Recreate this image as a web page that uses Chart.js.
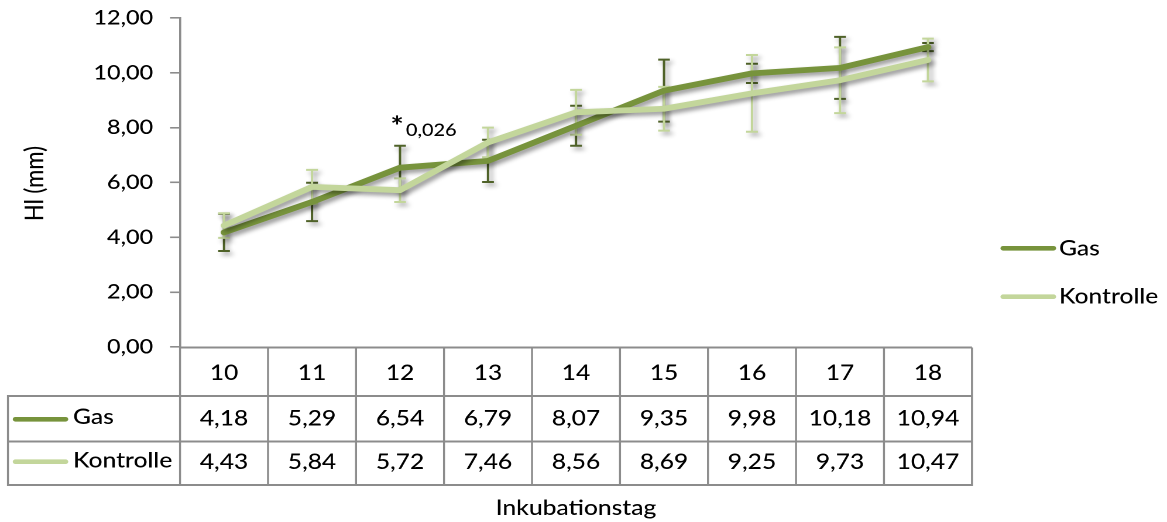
<!DOCTYPE html>
<html>
<head>
<meta charset="utf-8">
<script src="https://cdn.jsdelivr.net/npm/chart.js@4.4.1/dist/chart.umd.min.js"></script>
<style>
  html, body { margin: 0; padding: 0; background: #fff; overflow: hidden; }
  /* the chart is laid out narrow and widened horizontally, like the original figure */
  #wrap { position: absolute; left: 0; top: 0; width: 997px; height: 522px;
          transform: scaleX(1.1705); transform-origin: 0 0; }
  canvas { display: block; }
</style>
</head>
<body>
<div id="wrap"><canvas id="c" width="997" height="522"></canvas></div>
<script>
// Inkubationstage (x categories)
const days = ['10', '11', '12', '13', '14', '15', '16', '17', '18'];
// mean HI in mm
const gas = [4.18, 5.29, 6.54, 6.79, 8.07, 9.35, 9.98, 10.18, 10.94];
const kontrolle = [4.43, 5.84, 5.72, 7.46, 8.56, 8.69, 9.25, 9.73, 10.47];
// standard deviations (error bars)
const gasSD = [0.68, 0.70, 0.80, 0.77, 0.73, 1.13, 0.35, 1.13, 0.15];
const kontrolleSD = [0.45, 0.62, 0.43, 0.54, 0.82, 0.80, 1.40, 1.20, 0.78];
// series names
const seriesNames = ['Gas', 'Kontrolle'];
// significance marker above day 12
const sigDayIndex = 2;
const sigLabel = '0,026';
// axis texts
const yTitle = 'Hl (mm)';
const xTitle = 'Inkubationstag';

const FONT = 'Lato';
const W = '500 ';
const GREY = '#8c8c8c';
const lineColors = ['#77933C', '#C3D69B'];
const errColors = ['#4F6228', '#C3D69B'];
const PLOT_LEFT = 153.8;
const TABLE_LEFT = 6.8;
const ROW_Y = [347.5, 396, 441.5, 485];

const fmt = v => v.toFixed(2).replace('.', ',');
const allValues = [gas, kontrolle];
const allSD = [gasSD, kontrolleSD];

function shadowOn(ctx, chart) {
  const r = chart.currentDevicePixelRatio || 1;
  ctx.shadowColor = 'rgba(0,0,0,0.42)';
  ctx.shadowBlur = 5 * r;
  ctx.shadowOffsetX = 2.5 * r;
  ctx.shadowOffsetY = 3 * r;
}

const errorBarsAndShadow = {
  id: 'errorBarsAndShadow',
  beforeDatasetsDraw(chart) {
    const ctx = chart.ctx, xs = chart.scales.x, ys = chart.scales.y;
    ctx.save();
    shadowOn(ctx, chart);
    allValues.forEach((vals, si) => {
      ctx.strokeStyle = errColors[si];
      ctx.lineWidth = 2;
      ctx.lineCap = 'butt';
      vals.forEach((v, i) => {
        const x = xs.getPixelForValue(i);
        const yt = ys.getPixelForValue(v + allSD[si][i]);
        const yb = ys.getPixelForValue(v - allSD[si][i]);
        ctx.beginPath();
        ctx.moveTo(x, yt); ctx.lineTo(x, yb);
        ctx.moveTo(x - 5, yt); ctx.lineTo(x + 5, yt);
        ctx.moveTo(x - 5, yb); ctx.lineTo(x + 5, yb);
        ctx.stroke();
      });
    });
    ctx.restore();
    // drop shadow under the series lines
    ctx.save();
    shadowOn(ctx, chart);
  },
  afterDatasetsDraw(chart) {
    chart.ctx.restore();
  }
};

const tableAndLabels = {
  id: 'tableAndLabels',
  afterDraw(chart) {
    const ctx = chart.ctx, xs = chart.scales.x, ys = chart.scales.y, a = chart.chartArea;
    const colW = xs.getPixelForValue(1) - xs.getPixelForValue(0);
    ctx.save();

    // grid of the data table
    ctx.strokeStyle = GREY;
    ctx.lineCap = 'butt';
    ctx.lineWidth = 2;
    ctx.beginPath();
    ctx.moveTo(a.left, ROW_Y[0]); ctx.lineTo(a.right, ROW_Y[0]);
    for (let r = 1; r < ROW_Y.length; r++) {
      ctx.moveTo(TABLE_LEFT, ROW_Y[r]); ctx.lineTo(a.right, ROW_Y[r]);
    }
    ctx.stroke();
    ctx.lineWidth = 1.7;
    ctx.beginPath();
    ctx.moveTo(TABLE_LEFT, ROW_Y[1] - 1); ctx.lineTo(TABLE_LEFT, ROW_Y[3] + 1);
    for (let k = 0; k <= days.length; k++) {
      const x = a.left + k * colW;
      ctx.moveTo(x, ROW_Y[0]); ctx.lineTo(x, ROW_Y[3] + 1);
    }
    ctx.stroke();

    // table contents
    ctx.fillStyle = '#000';
    ctx.font = W + '21px ' + FONT;
    ctx.textAlign = 'center';
    ctx.textBaseline = 'alphabetic';
    const baselines = [380, 425.5, 469];
    days.forEach((d, i) => {
      const x = xs.getPixelForValue(i);
      ctx.fillText(d, x, baselines[0]);
      ctx.fillText(fmt(gas[i]), x, baselines[1]);
      ctx.fillText(fmt(kontrolle[i]), x, baselines[2]);
    });

    // series keys in the table's first column
    const keyY = [419.3, 461.7];
    seriesNames.forEach((name, si) => {
      ctx.strokeStyle = lineColors[si];
      ctx.lineWidth = 4.6;
      ctx.lineCap = 'round';
      ctx.beginPath();
      ctx.moveTo(13.2, keyY[si]); ctx.lineTo(56, keyY[si]);
      ctx.stroke();
      ctx.fillStyle = '#000';
      ctx.textAlign = 'left';
      ctx.fillText(name, 62.4, baselines[si + 1] - 1.5);
    });

    // legend at the right
    const legY = [248.3, 296.7];
    seriesNames.forEach((name, si) => {
      ctx.strokeStyle = lineColors[si];
      ctx.lineWidth = 4.6;
      ctx.lineCap = 'round';
      ctx.beginPath();
      ctx.moveTo(857, legY[si]); ctx.lineTo(900, legY[si]);
      ctx.stroke();
      ctx.fillStyle = '#000';
      ctx.textAlign = 'left';
      ctx.fillText(name, 904.7, legY[si] + 7);
    });

    // axis titles
    ctx.textAlign = 'center';
    ctx.fillText(xTitle, (a.left + a.right) / 2, 515);
    ctx.save();
    ctx.translate(30, 183.5);
    ctx.rotate(-Math.PI / 2);
    ctx.font = W + '22px ' + FONT;
    ctx.textAlign = 'center';
    ctx.textBaseline = 'middle';
    ctx.fillText(yTitle, 0, 0);
    ctx.restore();

    // significance marker
    const sx = xs.getPixelForValue(sigDayIndex);
    const sy = ys.getPixelForValue(gas[sigDayIndex] + gasSD[sigDayIndex]);
    ctx.textAlign = 'center';
    ctx.font = 'bold 27px ' + FONT;
    ctx.fillText('*', sx - 2.5, sy - 10.5);
    ctx.textAlign = 'left';
    ctx.font = W + '17px ' + FONT;
    ctx.fillText(sigLabel, sx + 5, sy - 10);

    ctx.restore();
  }
};

new Chart(document.getElementById('c'), {
  type: 'line',
  data: {
    labels: days,
    datasets: [
      { label: seriesNames[0], data: gas, borderColor: lineColors[0], backgroundColor: lineColors[0],
        borderWidth: 5.8, pointRadius: 0, tension: 0, order: 1,
        borderJoinStyle: 'round', borderCapStyle: 'round' },
      { label: seriesNames[1], data: kontrolle, borderColor: lineColors[1], backgroundColor: lineColors[1],
        borderWidth: 5.8, pointRadius: 0, tension: 0, order: 0,
        borderJoinStyle: 'round', borderCapStyle: 'round' }
    ]
  },
  options: {
    responsive: false,
    animation: false,
    devicePixelRatio: 2,
    layout: { padding: { left: 0, right: 166.6, top: 18, bottom: 175 } },
    plugins: { legend: { display: false }, tooltip: { enabled: false } },
    scales: {
      x: { type: 'category', offset: true, display: false },
      y: {
        min: 0, max: 12,
        ticks: { stepSize: 2, callback: v => fmt(v), color: '#000',
                 font: { family: FONT, size: 20, weight: '500' }, padding: 14.5 },
        grid: { drawOnChartArea: false, drawTicks: true, tickLength: 8.5, color: GREY, lineWidth: 1.6 },
        border: { display: true, color: GREY, width: 1.8 },
        afterFit: s => { s.width = PLOT_LEFT; s.paddingTop = 0; s.paddingBottom = 0; }
      }
    }
  },
  plugins: [errorBarsAndShadow, tableAndLabels]
});
</script>
</body>
</html>
